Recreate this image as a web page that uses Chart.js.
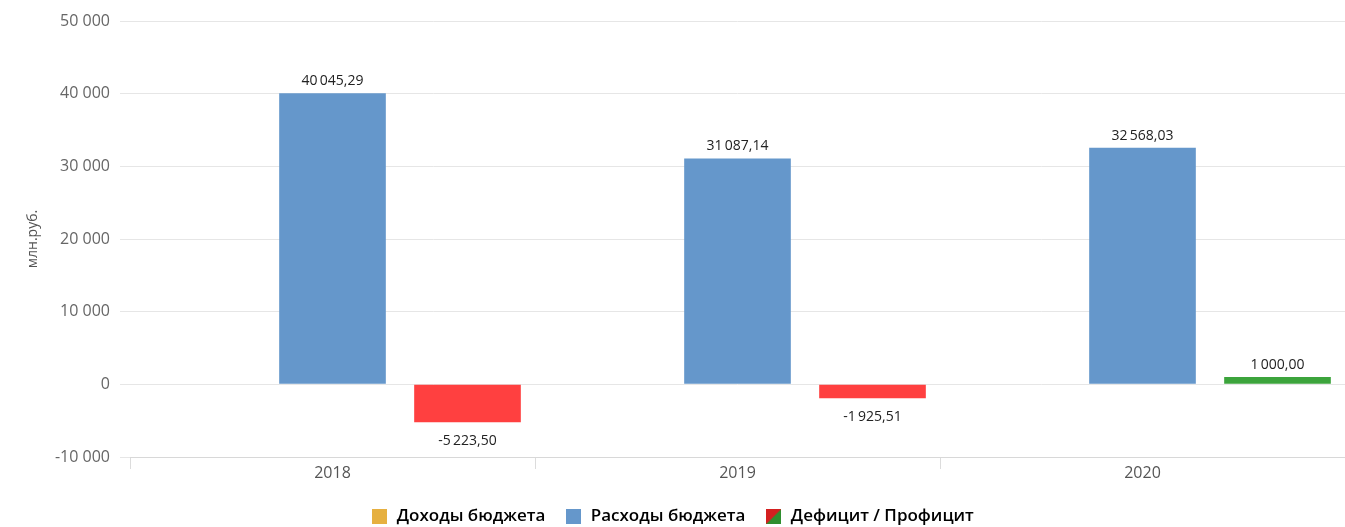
<!DOCTYPE html>
<html>
<head>
<meta charset="utf-8">
<script src="https://cdn.jsdelivr.net/npm/chart.js@4"></script>
<style>
  body { margin: 0; background: #fff; }
  #wrap { width: 1345px; height: 527px; }
</style>
</head>
<body>
<div id="wrap"><canvas id="budgetChart" width="1345" height="527"></canvas></div>
<script>
// Chart data
const years = ['2018', '2019', '2020'];
const incomeValues = [null, null, null];
const expenseValues = [40045.29, 31087.14, 32568.03];
const balanceValues = [-5223.50, -1925.51, 1000.00];
const seriesNames = ['Доходы бюджета', 'Расходы бюджета', 'Дефицит / Профицит'];
const yTicks = [-10000, 0, 10000, 20000, 30000, 40000, 50000];

const YELLOW = '#e6b040';
const BLUE = '#6597cb';
const RED = '#ff4040';
const GREEN = '#3ca43c';

function groupThousands(str) {
  return str.replace(/\B(?=(\d{3})+(?!\d))/g, '\u2009');
}
function fmtTick(v) {
  const s = groupThousands(String(Math.abs(v)));
  return (v < 0 ? '-' : '') + s.replace(/\u2009/g, ' ');
}
function fmtValue(v) {
  const parts = Math.abs(v).toFixed(2).split('.');
  return (v < 0 ? '-' : '') + groupThousands(parts[0]) + ',' + parts[1];
}

// small canvases used as legend markers
function legendBox(draw) {
  const c = document.createElement('canvas');
  c.width = 15; c.height = 15;
  draw(c.getContext('2d'));
  return c;
}
const yellowBox = legendBox(ctx => { ctx.fillStyle = YELLOW; ctx.fillRect(0, 0, 15, 15); });
const blueBox = legendBox(ctx => { ctx.fillStyle = BLUE; ctx.fillRect(0, 0, 15, 15); });
const mixedBox = legendBox(ctx => {
  ctx.fillStyle = '#d42020';
  ctx.fillRect(0, 0, 15, 15);
  ctx.fillStyle = '#2f8f2f';
  ctx.beginPath();
  ctx.moveTo(15, 0); ctx.lineTo(15, 15); ctx.lineTo(0, 15);
  ctx.closePath();
  ctx.fill();
});
const legendImages = [yellowBox, blueBox, mixedBox];

// value labels above / below bars
const valueLabels = {
  id: 'valueLabels',
  afterDatasetsDraw(chart) {
    const ctx = chart.ctx;
    ctx.save();
    ctx.font = '14px "Open Sans"';
    ctx.fillStyle = '#222';
    ctx.textAlign = 'center';
    chart.data.datasets.forEach((ds, i) => {
      const meta = chart.getDatasetMeta(i);
      if (meta.hidden) return;
      meta.data.forEach((bar, j) => {
        const v = ds.data[j];
        if (v === null || v === undefined) return;
        if (v >= 0) {
          ctx.textBaseline = 'bottom';
          ctx.fillText(fmtValue(v), bar.x, bar.y - 5);
        } else {
          ctx.textBaseline = 'top';
          ctx.fillText(fmtValue(v), bar.x, bar.y + 12);
        }
      });
    });
    ctx.restore();
  }
};

new Chart(document.getElementById('budgetChart').getContext('2d'), {
  type: 'bar',
  data: {
    labels: years,
    datasets: [
      {
        label: seriesNames[0],
        data: incomeValues,
        backgroundColor: YELLOW,
        categoryPercentage: 1,
        barPercentage: 0.79
      },
      {
        label: seriesNames[1],
        data: expenseValues,
        backgroundColor: BLUE,
        categoryPercentage: 1,
        barPercentage: 0.79
      },
      {
        label: seriesNames[2],
        data: balanceValues,
        backgroundColor: balanceValues.map(v => v < 0 ? RED : GREEN),
        categoryPercentage: 1,
        barPercentage: 0.79
      }
    ]
  },
  options: {
    responsive: false,
    animation: false,
    layout: { padding: { top: 21, right: 0, left: 0, bottom: -8 } },
    plugins: {
      tooltip: { enabled: false },
      legend: {
        position: 'bottom',
        labels: {
          usePointStyle: true,
          color: '#444',
          font: { family: '"Open Sans"', size: 17, weight: '600' },
          padding: 20,
          generateLabels(chart) {
            return chart.data.datasets.map((ds, i) => ({
              text: ds.label,
              pointStyle: legendImages[i],
              fillStyle: 'transparent',
              strokeStyle: 'transparent',
              lineWidth: 0,
              hidden: false,
              datasetIndex: i
            }));
          }
        }
      }
    },
    scales: {
      x: {
        afterFit(scale) {
          scale.height = 31;
        },
        grid: {
          offset: true,
          drawOnChartArea: false,
          drawTicks: true,
          tickLength: 12,
          color: '#dcdcdc'
        },
        border: { color: '#d8d8d8' },
        ticks: {
          color: '#555',
          font: { family: '"Open Sans"', size: 16 },
          padding: -5
        }
      },
      y: {
        min: -10000,
        max: 50000,
        afterBuildTicks(scale) {
          scale.ticks = yTicks.map(v => ({ value: v }));
        },
        afterFit(scale) {
          scale.width = 130;
        },
        grid: {
          color: '#e6e6e6',
          tickLength: 10,
          drawTicks: true
        },
        border: { display: false },
        title: {
          display: true,
          text: 'млн.руб.',
          color: '#555',
          font: { family: '"Open Sans"', size: 14 },
          padding: { top: 25, bottom: 0 }
        },
        ticks: {
          color: '#666',
          font: { family: '"Open Sans"', size: 16 },
          padding: 10,
          callback: v => fmtTick(v)
        }
      }
    }
  },
  plugins: [valueLabels]
});
</script>
</body>
</html>
